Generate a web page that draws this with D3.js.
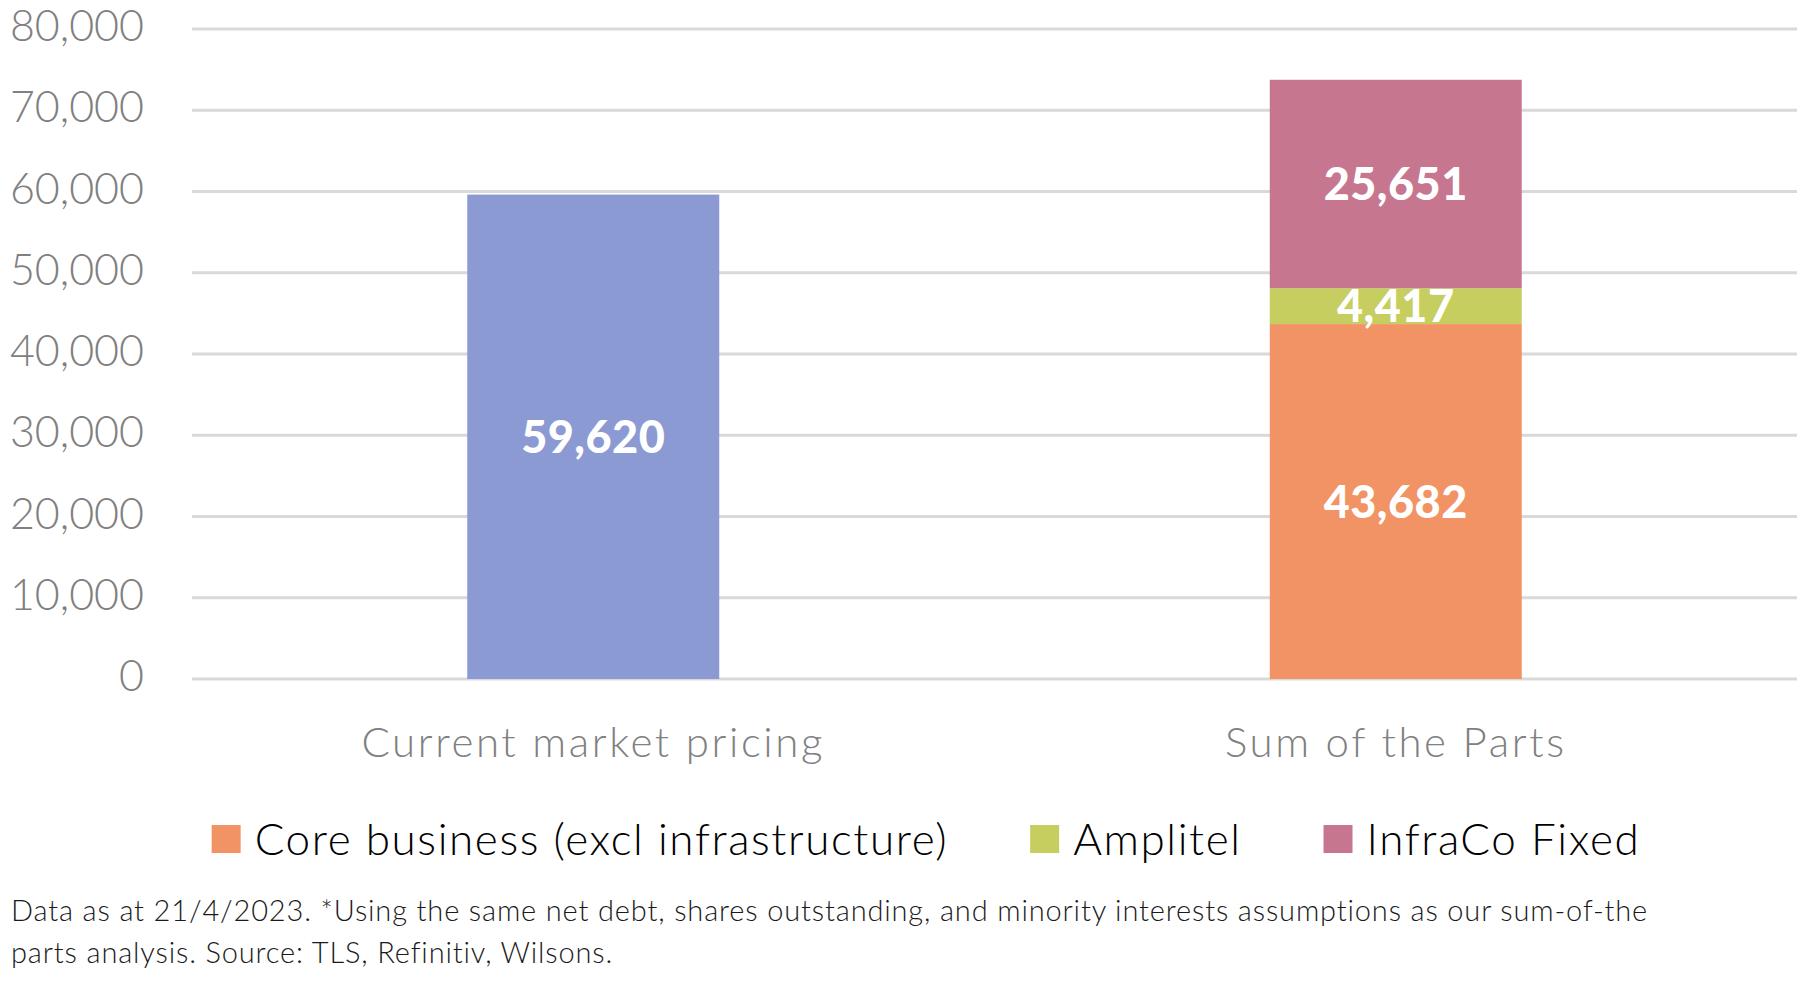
<!DOCTYPE html>
<html>
<head>
<meta charset="utf-8">
<script src="https://cdn.jsdelivr.net/npm/d3@7"></script>
<style>
  html, body { margin: 0; padding: 0; background: #ffffff; }
  svg { display: block; }
</style>
</head>
<body>
<svg id="chart" width="1800" height="981"></svg>
<script>
// ---- Data ----
const categories = ["Current market pricing", "Sum of the Parts"];
const seriesNames = ["Current market pricing", "Core business (excl infrastructure)", "Amplitel", "InfraCo Fixed"];
const currentValues = [59620, 0];
const coreValues = [0, 43682];
const amplitelValues = [0, 4417];
const infracoValues = [0, 25651];
const yTicks = [0, 10000, 20000, 30000, 40000, 50000, 60000, 70000, 80000];
const legendNames = ["Core business (excl infrastructure)", "Amplitel", "InfraCo Fixed"];
const footnoteLines = [
  "Data as at 21/4/2023. *Using the same net debt, shares outstanding, and minority interests assumptions as our sum-of-the",
  "parts analysis. Source: TLS, Refinitiv, Wilsons."
];

const colors = {
  "Current market pricing": "#8C9AD4",
  "Core business (excl infrastructure)": "#F29365",
  "Amplitel": "#C5CE5E",
  "InfraCo Fixed": "#C6768F"
};

// ---- Layout ----
const svg = d3.select("#chart");
const plot = { left: 192, right: 1797, top: 29, bottom: 679 };
const fontFamily = "Lato, 'Open Sans', sans-serif";

const x = d3.scaleBand()
  .domain(categories)
  .range([plot.left, plot.right])
  .paddingInner(0.686)
  .paddingOuter(0.343);

const y = d3.scaleLinear()
  .domain([0, 80000])
  .range([plot.bottom, plot.top]);

// gridlines
svg.append("g")
  .selectAll("line")
  .data(yTicks)
  .join("line")
  .attr("x1", plot.left)
  .attr("x2", plot.right)
  .attr("y1", d => y(d))
  .attr("y2", d => y(d))
  .attr("stroke", "#d9d9d9")
  .attr("stroke-width", 3);

// y axis labels
const yAxis = d3.axisLeft(y).tickValues(yTicks).tickFormat(d3.format(",")).tickSize(0).tickPadding(0);
const yg = svg.append("g").attr("transform", `translate(144,0)`).call(yAxis);
yg.select(".domain").remove();
yg.selectAll("text")
  .attr("font-family", fontFamily)
  .attr("font-weight", 300)
  .attr("font-size", 43)
  .attr("fill", "#808080")
  .attr("dy", "0.27em");

// x axis labels
const xAxis = d3.axisBottom(x).tickSize(0).tickPadding(0);
const xg = svg.append("g").attr("transform", `translate(0,${plot.bottom})`).call(xAxis);
xg.select(".domain").remove();
xg.selectAll("text")
  .attr("font-family", fontFamily)
  .attr("font-weight", 300)
  .attr("font-size", 42)
  .attr("letter-spacing", 2.6)
  .attr("fill", "#808080")
  .attr("dy", null)
  .attr("y", 78);

// stacked data
const rows = categories.map((c, i) => ({
  category: c,
  "Current market pricing": currentValues[i],
  "Core business (excl infrastructure)": coreValues[i],
  "Amplitel": amplitelValues[i],
  "InfraCo Fixed": infracoValues[i]
}));
const stack = d3.stack().keys(seriesNames);
const layers = stack(rows);

const segs = [];
layers.forEach(layer => {
  layer.forEach(d => {
    const v = d[1] - d[0];
    if (v > 0) segs.push({ key: layer.key, cat: d.data.category, y0: d[0], y1: d[1], v });
  });
});

svg.append("g")
  .selectAll("rect")
  .data(segs)
  .join("rect")
  .attr("x", d => x(d.cat))
  .attr("width", x.bandwidth())
  .attr("y", d => y(d.y1))
  .attr("height", d => y(d.y0) - y(d.y1))
  .attr("fill", d => colors[d.key]);

svg.append("g")
  .selectAll("text")
  .data(segs)
  .join("text")
  .attr("x", d => x(d.cat) + x.bandwidth() / 2)
  .attr("y", d => (y(d.y0) + y(d.y1)) / 2)
  .attr("dy", "0.36em")
  .attr("text-anchor", "middle")
  .attr("font-family", fontFamily)
  .attr("font-weight", 900)
  .attr("font-size", 45)
  .attr("letter-spacing", 0.5)
  .attr("fill", "#ffffff")
  .text(d => d3.format(",")(d.v));

// legend
const legend = svg.append("g");
const legendY = 839;
const items = legend.selectAll("g")
  .data(legendNames)
  .join("g");
items.append("rect")
  .attr("width", 29)
  .attr("height", 28)
  .attr("y", legendY - 14)
  .attr("fill", d => colors[d]);
items.append("text")
  .attr("x", 43)
  .attr("y", legendY)
  .attr("dy", "0.36em")
  .attr("font-family", fontFamily)
  .attr("font-weight", 300)
  .attr("font-size", 44)
  .attr("letter-spacing", 1.6)
  .attr("fill", "#000000")
  .text(d => d);
let cursor = 0;
const positions = [];
items.each(function() {
  const w = this.getBBox().width;
  positions.push(cursor);
  cursor += w + 82;
});
const totalW = cursor - 82;
const startX = 926 - totalW / 2;
items.attr("transform", (d, i) => `translate(${startX + positions[i]},0)`);

// footnote
svg.append("g")
  .selectAll("text")
  .data(footnoteLines)
  .join("text")
  .attr("x", 11)
  .attr("y", (d, i) => 921 + i * 42)
  .attr("font-family", fontFamily)
  .attr("font-weight", 300)
  .attr("font-size", 29)
  .attr("letter-spacing", 0.85)
  .attr("fill", "#1a1a1a")
  .text(d => d);
</script>
</body>
</html>
